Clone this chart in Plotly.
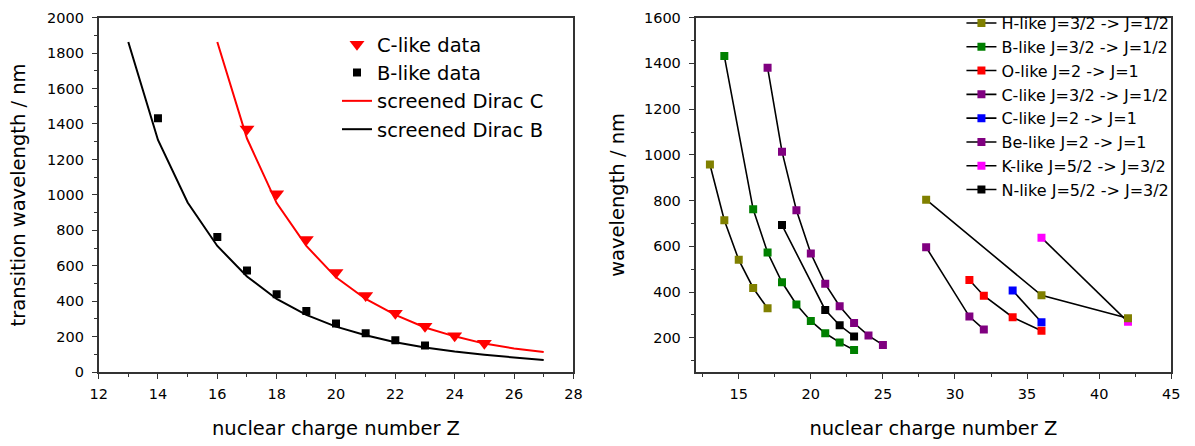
import plotly.graph_objects as go

# ---------------- Left panel data ----------------
b_like_z = [14, 16, 17, 18, 19, 20, 21, 22, 23]
b_like_wl = [1432, 763, 573, 440, 345, 274, 220, 180, 150]

c_like_z = [17, 18, 19, 20, 21, 22, 23, 24, 25]
c_like_wl = [1372, 1006, 749, 562, 432, 332, 259, 205, 163]

dirac_b_z = [13, 14, 15, 16, 17, 18, 19, 20, 21, 22, 23, 24, 25, 26, 27]
dirac_b_wl = [1863, 1310, 957, 712, 540, 413, 323, 257, 208, 169, 139, 116, 98, 82, 68]

dirac_c_z = [16, 17, 18, 19, 20, 21, 22, 23, 24, 25, 26, 27]
dirac_c_wl = [1863, 1318, 954, 712, 535, 413, 323, 252, 202, 161, 134, 114]

# ---------------- Right panel data ----------------
h_like_z = [13, 14, 15, 16, 17]
h_like_wl = [958, 714, 541, 418, 329]
h_like_hi_z = [28, 36, 42]
h_like_hi_wl = [804, 386, 286]

b_like2_z = [14, 16, 17, 18, 19, 20, 21, 22, 23]
b_like2_wl = [1432, 762, 573, 443, 346, 274, 220, 180, 147]

o_like_z = [31, 32, 34, 36]
o_like_wl = [453, 384, 290, 231]

c_like2_z = [17, 18, 19, 20, 21, 22, 23, 24, 25]
c_like2_wl = [1381, 1014, 758, 569, 436, 338, 265, 210, 169]

c_like_j2_z = [34, 36]
c_like_j2_wl = [407, 268]

be_like_z = [28, 31, 32]
be_like_wl = [596, 293, 237]

k_like_z = [36, 42]
k_like_wl = [638, 270]

n_like_z = [18, 21, 22, 23]
n_like_wl = [693, 322, 255, 206]

FONT = "DejaVu Sans, Arial, sans-serif"

fig = go.Figure()

# Left panel
fig.add_trace(go.Scatter(x=c_like_z, y=c_like_wl, mode="markers", name="C-like data",
                         marker=dict(symbol="triangle-down", size=13, color="#ff0000"),
                         xaxis="x", yaxis="y", legend="legend"))
fig.add_trace(go.Scatter(x=b_like_z, y=b_like_wl, mode="markers", name="B-like data",
                         marker=dict(symbol="square", size=8, color="#000000"),
                         xaxis="x", yaxis="y", legend="legend"))
fig.add_trace(go.Scatter(x=dirac_c_z, y=dirac_c_wl, mode="lines", name="screened Dirac C",
                         line=dict(color="#ff0000", width=2),
                         xaxis="x", yaxis="y", legend="legend"))
fig.add_trace(go.Scatter(x=dirac_b_z, y=dirac_b_wl, mode="lines", name="screened Dirac B",
                         line=dict(color="#000000", width=2),
                         xaxis="x", yaxis="y", legend="legend"))

# Right panel
right_series = [
    ("H-like J=3/2 -> J=1/2", h_like_z, h_like_wl, "#808000"),
    ("B-like J=3/2 -> J=1/2", b_like2_z, b_like2_wl, "#008000"),
    ("O-like J=2 -> J=1", o_like_z, o_like_wl, "#ff0000"),
    ("C-like J=3/2 -> J=1/2", c_like2_z, c_like2_wl, "#800080"),
    ("C-like J=2 -> J=1", c_like_j2_z, c_like_j2_wl, "#0000ff"),
    ("Be-like J=2 -> J=1", be_like_z, be_like_wl, "#800080"),
    ("K-like J=5/2 -> J=3/2", k_like_z, k_like_wl, "#ff00ff"),
    ("N-like J=5/2 -> J=3/2", n_like_z, n_like_wl, "#000000"),
]
for name, xs, ys, col in right_series:
    fig.add_trace(go.Scatter(x=xs, y=ys, mode="lines+markers", name=name,
                             legendgroup=name,
                             line=dict(color="#000000", width=1.6),
                             marker=dict(symbol="square", size=8, color=col),
                             xaxis="x2", yaxis="y2", legend="legend2"))
# upper-Z part of the H-like series (drawn last, on top)
fig.add_trace(go.Scatter(x=h_like_hi_z, y=h_like_hi_wl, mode="lines+markers",
                         name="H-like J=3/2 -> J=1/2", legendgroup="H-like J=3/2 -> J=1/2",
                         showlegend=False,
                         line=dict(color="#000000", width=1.6),
                         marker=dict(symbol="square", size=8, color="#808000"),
                         xaxis="x2", yaxis="y2", legend="legend2"))

W, H = 1195, 446
y_dom = [1 - 377.7 / H, 1 - 10 / H]

axis_common = dict(
    showline=True, linecolor="#333333", linewidth=1.5, mirror=True,
    ticks="outside", ticklen=5, tickwidth=1.3, tickcolor="#333333",
    showgrid=False, zeroline=False,
    tickfont=dict(family=FONT, size=14.5, color="#000000"),
)
minor_common = dict(ticks="outside", ticklen=3, tickwidth=1.2, tickcolor="#333333")
title_font = dict(family=FONT, size=19.5, color="#000000")

fig.update_layout(
    width=W, height=H,
    margin=dict(l=0, r=0, t=0, b=0),
    paper_bgcolor="white", plot_bgcolor="white",
    font=dict(family=FONT, color="#000000"),
    xaxis=dict(domain=[91 / W, 573 / W], range=[12, 28], dtick=2, tick0=12,
               minor=dict(dtick=1, **minor_common), ticklabelstandoff=3,
               title=dict(text="nuclear charge number Z", font=title_font, standoff=20),
               anchor="y", **axis_common),
    yaxis=dict(domain=y_dom, range=[0, 2000], dtick=200, tick0=0,
               minor=dict(dtick=100, **minor_common), ticklabelstandoff=5,
               title=dict(text="transition wavelength / nm", font=title_font, standoff=16),
               anchor="x", **axis_common),
    xaxis2=dict(domain=[697 / W, 1180 / W], range=[12, 45], dtick=5, tick0=0,
                minor=dict(dtick=2.5, **minor_common), ticklabelstandoff=3,
                title=dict(text="nuclear charge number Z", font=title_font, standoff=20),
                anchor="y2", **axis_common),
    yaxis2=dict(domain=y_dom, range=[50, 1600], dtick=200, tick0=0,
                minor=dict(dtick=100, **minor_common), ticklabelstandoff=5,
                title=dict(text="wavelength / nm", font=title_font, standoff=14),
                anchor="x2", **axis_common),
    legend=dict(x=333 / W, y=1 - 17.6 / H, xanchor="left", yanchor="top",
                bgcolor="rgba(0,0,0,0)", font=dict(family=FONT, size=19.5),
                tracegroupgap=0, itemwidth=30),
    legend2=dict(x=967 / W, y=1 + 2 / H, xanchor="left", yanchor="top",
                 bgcolor="rgba(0,0,0,0)", font=dict(family=FONT, size=16),
                 tracegroupgap=0, itemwidth=30),
    showlegend=True,
)

fig.write_html("out.html")
